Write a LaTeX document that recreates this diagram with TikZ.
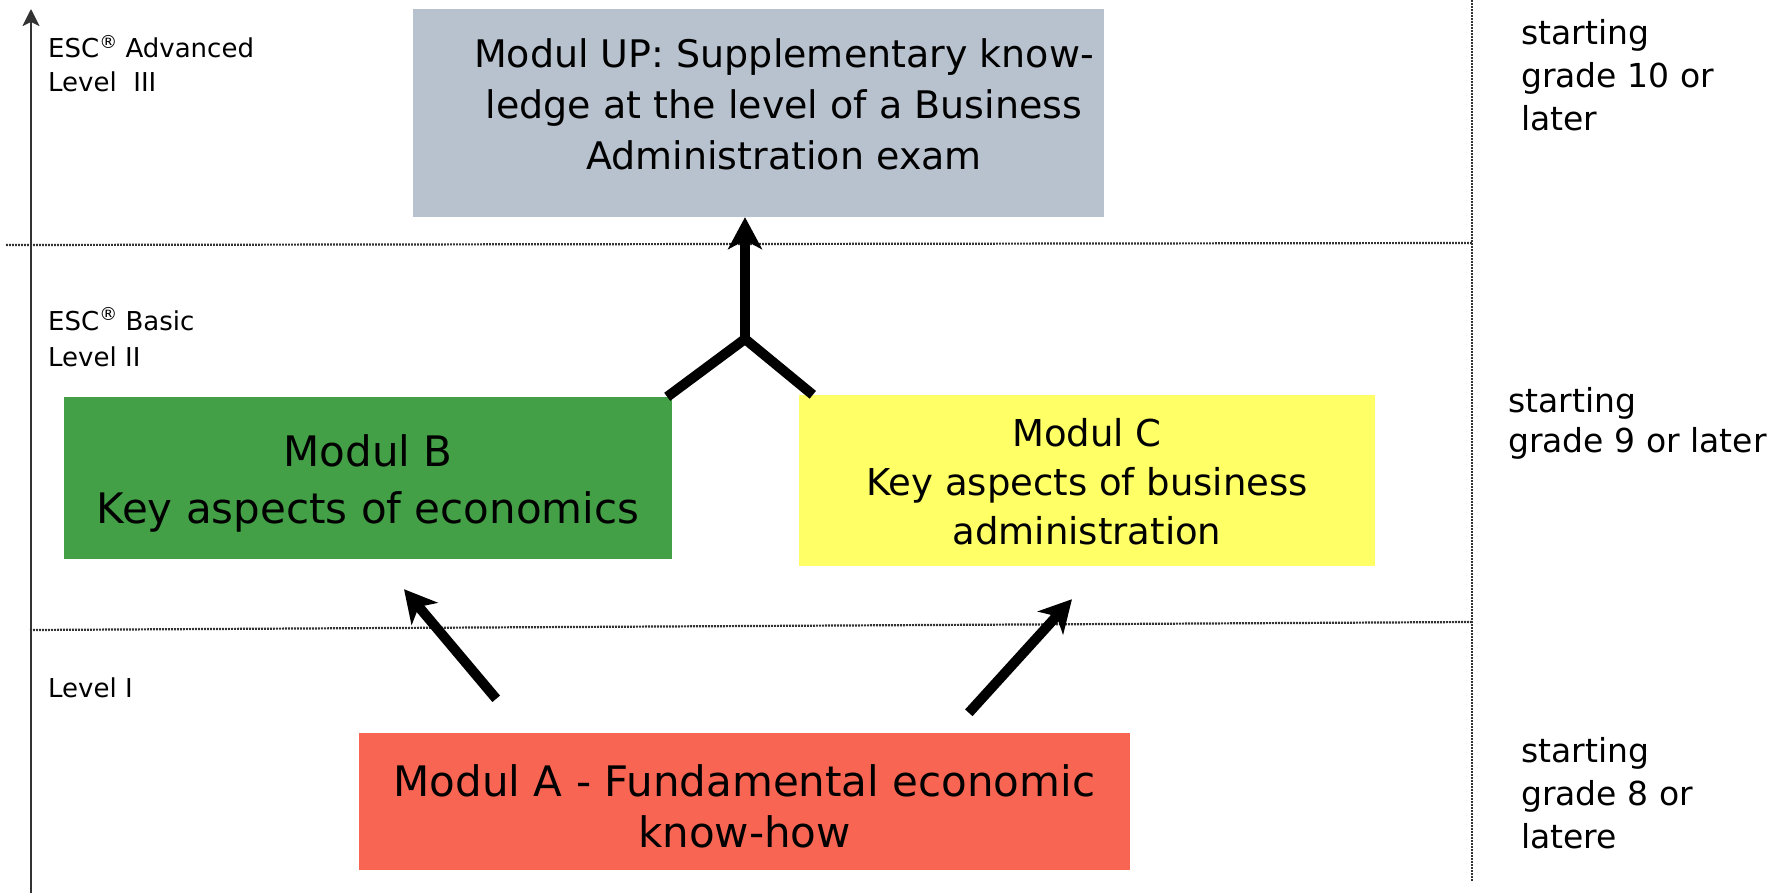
\documentclass[tikz,border=0pt]{standalone}
\usepackage{fontspec}
\setmainfont{DejaVu Sans}
\usetikzlibrary{arrows.meta}
\definecolor{upgrey}{RGB}{184,194,206}
\definecolor{bgreen}{RGB}{67,160,71}
\definecolor{cyellow}{RGB}{255,255,102}
\definecolor{ared}{RGB}{249,101,83}
\newcommand{\regmark}{\raisebox{0.38em}{\fontsize{18}{18}\selectfont ®}}
\begin{document}
\begin{tikzpicture}[x=1pt,y=-1pt,
  modbox/.style={inner sep=0pt, draw=none},
  modtext/.style={align=center, inner sep=0pt, anchor=base},
  lvltext/.style={align=left, inner sep=0pt, anchor=base west, font=\fontsize{26}{34}\selectfont},
  gradetext/.style={align=left, inner sep=0pt, anchor=base west, font=\fontsize{33}{43}\selectfont},
  sepline/.style={gray!40!black, line width=2.2pt, dash pattern=on 1.8pt off 1.2pt},
  bigarrow/.style={line width=10pt, -{Stealth[length=32pt,width=34pt,inset=9pt]}},
  armline/.style={line width=10pt}
]
\useasboundingbox (0,0) rectangle (1785,893);

% separators
\coordinate (vtop) at (1472,0);
\coordinate (vbot) at (1472,881);
\coordinate (h1l) at (6,245);
\coordinate (h1r) at (1472,243);
\coordinate (h2l) at (30,630);
\coordinate (h2r) at (1472,622);
\draw[sepline] (vtop) -- (vbot);
\draw[sepline] (h1l) -- (h1r);
\draw[sepline] (h2l) -- (h2r);

% axis
\coordinate (axb) at (31,893);
\coordinate (axt) at (31,9);
\draw[gray!40!black, line width=2.6pt, -{Stealth[length=17pt,width=17pt,inset=4pt]}] (axb) -- (axt);

% boxes
\node[modbox, fill=upgrey, minimum width=691pt, minimum height=208pt] (up) at (758.5,113) {};
\node[modbox, fill=bgreen, minimum width=608pt, minimum height=162pt] (mb) at (368,478) {};
\node[modbox, fill=cyellow, minimum width=576pt, minimum height=171pt] (mc) at (1087,480.5) {};
\node[modbox, fill=ared, minimum width=771pt, minimum height=137pt] (ma) at (744.5,801.5) {};

% box texts (anchor = baseline of the last line)
\node[modtext, font=\fontsize{38}{51}\selectfont] (uptext) at (784,170)
  {Modul UP: Supplementary know-\\ledge at the level of a Business\\Administration exam};
\node[modtext, font=\fontsize{42}{57}\selectfont] (mbtext) at (368,523)
  {Modul B\\Key aspects of economics};
\node[modtext, font=\fontsize{37}{49}\selectfont] (mctext) at (1087,544)
  {Modul C\\Key aspects of business\\administration};
\node[modtext, font=\fontsize{42}{51}\selectfont] (matext) at (744.5,847)
  {Modul A - Fundamental economic\\know-how};

% level labels
\node[lvltext] (l3) at (48,92) {ESC\regmark\ Advanced\\Level~~III};
\node[lvltext, font=\fontsize{26}{36}\selectfont] (l2) at (48,366) {ESC\regmark\ Basic\\Level II};
\node[lvltext] (l1) at (48,697) {Level I};

% grade labels
\node[gradetext] (g10) at (1521,131) {starting\\grade 10 or\\later};
\node[gradetext, font=\fontsize{33}{40}\selectfont] (g9) at (1508,452) {starting\\grade 9 or later};
\node[gradetext] (g8) at (1521,848) {starting\\grade 8 or\\latere};

% connectors
\coordinate (j) at (745,339);
\draw[armline] ([xshift=-5pt]mb.north east) -- (j);
\draw[armline] ([xshift=14pt]mc.north west) -- (j);
\draw[bigarrow] (j) -- (up.south -| j);
\draw[bigarrow] ([xshift=-634pt,yshift=34pt]ma.north east) -- ([xshift=36pt,yshift=-30pt]mb.south);
\draw[bigarrow] ([xshift=610pt,yshift=20pt]ma.north west) -- ([xshift=-15pt,yshift=-33pt]mc.south);
\end{tikzpicture}
\end{document}
